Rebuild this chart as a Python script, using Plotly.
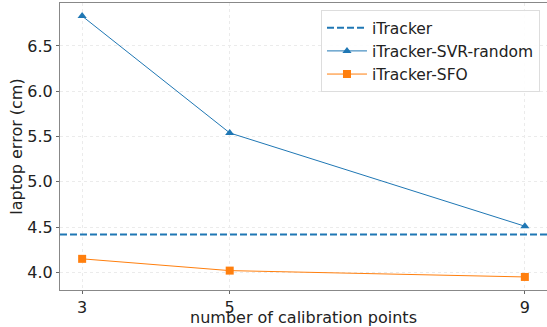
import plotly.graph_objects as go

calib_points = [3, 5, 9]
itracker_baseline = 4.42
svr_random = [6.83, 5.54, 4.51]
sfo = [4.15, 4.02, 3.95]

x_range = [2.7, 9.3]
y_range = [3.806, 6.974]

blue = "#1f77b4"
orange = "#ff7f0e"
font = "DejaVu Sans"

fig = go.Figure()
fig.add_trace(go.Scatter(
    x=x_range, y=[itracker_baseline, itracker_baseline], mode="lines",
    name="iTracker", line=dict(color=blue, width=2, dash="7px,3px"),
))
fig.add_trace(go.Scatter(
    x=calib_points, y=svr_random, mode="lines+markers", name="iTracker-SVR-random",
    line=dict(color=blue, width=1), marker=dict(symbol="triangle-up", size=8, color=blue),
))
fig.add_trace(go.Scatter(
    x=calib_points, y=sfo, mode="lines+markers", name="iTracker-SFO",
    line=dict(color=orange, width=1), marker=dict(symbol="square", size=8, color=orange),
))

fig.update_layout(
    width=547, height=327,
    margin=dict(l=60, r=0, t=3, b=37, autoexpand=False),
    plot_bgcolor="white", paper_bgcolor="white",
    font=dict(family=font, size=16, color="#222"),
    showlegend=True,
    legend=dict(
        x=0.9856, y=0.975, xanchor="right", yanchor="top",
        bgcolor="rgba(255,255,255,0.9)", bordercolor="#dddddd", borderwidth=1,
        font=dict(size=15.5), tracegroupgap=0, itemwidth=40,
    ),
)
fig.update_xaxes(
    range=x_range, tickvals=calib_points, ticktext=[str(v) for v in calib_points],
    showgrid=True, gridcolor="#ebebeb", griddash="dot", zeroline=False, automargin=False,
    showline=True, linecolor="#888", mirror=True, ticks="outside", ticklen=3, tickcolor="#666",
    title=dict(text="number of calibration points", standoff=7, font=dict(size=16)),
    tickfont=dict(size=16),
)
fig.update_yaxes(
    range=y_range, tickvals=[4.0, 4.5, 5.0, 5.5, 6.0, 6.5],
    ticktext=["4.0", "4.5", "5.0", "5.5", "6.0", "6.5"],
    showgrid=True, gridcolor="#ebebeb", griddash="dot", zeroline=False, automargin=False,
    showline=True, linecolor="#888", mirror=True, ticks="outside", ticklen=3, tickcolor="#666",
    title=dict(text="laptop error (cm)", standoff=0, font=dict(size=16)),
    tickfont=dict(size=16),
)

fig.write_html(
    "out.html",
    config={"displayModeBar": False},
    post_script="document.body.style.margin='0';document.body.style.padding='0';",
)
